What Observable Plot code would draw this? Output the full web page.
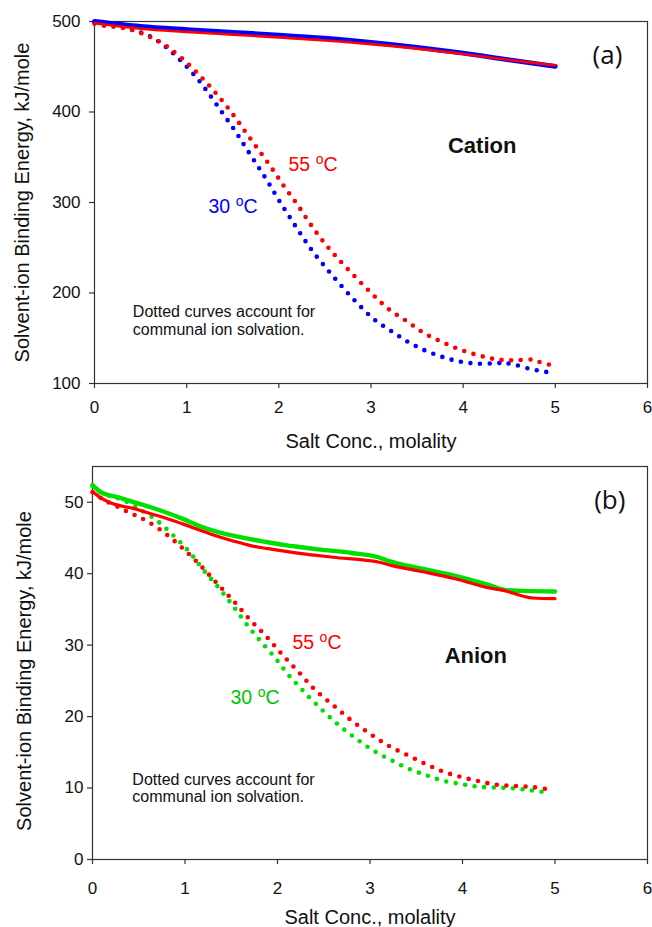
<!DOCTYPE html>
<html>
<head>
<meta charset="utf-8">
<script src="https://cdn.jsdelivr.net/npm/d3@7"></script>
<script src="https://cdn.jsdelivr.net/npm/@observablehq/plot@0.6"></script>
<style>
  html, body { margin: 0; padding: 0; background: #fff; }
  #chart svg { display: block; }
</style>
</head>
<body>
<div id="chart"></div>
<script>
// ---------- tick labels ----------
const xTicks = [0, 1, 2, 3, 4, 5, 6];
const cationYTicks = [100, 200, 300, 400, 500];
const anionYTicks = [0, 10, 20, 30, 40, 50];

// ---------- panel (a): cation, [molality, kJ/mole] ----------
const cation30Solid = [[0,500],[0.5,494.5],[1,491],[1.5,488],[2,485],[2.5,481.5],[3,477],[3.5,471.5],[4,465],[4.5,457.5],[5,450.5]];
const cation55Solid = [[0,498],[0.5,492],[1,488.5],[1.5,485.5],[2,482.5],[2.5,479],[3,475],[3.5,470],[4,464],[4.5,457.5],[5,451.5]];
const cation30Dotted = [[0,499.5],[0.2,497],[0.4,491],[0.58,484.9],[0.78,471.3],[0.96,454.3],[1.13,435.2],[1.27,416.1],[1.4,397.3],[1.53,378.5],[1.65,359.3],[1.77,340.5],[1.89,321.4],[2.0,302.6],[2.12,283.5],[2.24,264.8],[2.37,245.6],[2.52,226.8],[2.68,207.7],[2.85,188.9],[3.03,171.2],[3.22,158],[3.41,145.5],[3.6,135.9],[3.79,128.9],[3.97,124.1],[4.16,121.9],[4.34,122.3],[4.44,122.7],[4.54,121.2],[4.72,116.3],[4.91,112.7]];
const cation55Dotted = [[0,497.5],[0.12,495.1],[0.22,494],[0.32,492.6],[0.42,490.4],[0.51,487.1],[0.61,482.7],[0.71,477.5],[0.81,470.8],[1.0,454.7],[1.19,435.2],[1.36,415.6],[1.51,396.2],[1.65,376.3],[1.79,356.8],[1.93,336.9],[2.06,317.3],[2.2,297.9],[2.33,278],[2.47,258.5],[2.63,239.4],[2.81,219.8],[3.0,200.3],[3.19,182.3],[3.39,168.7],[3.58,155.4],[3.78,145.5],[3.97,137.3],[4.17,131.1],[4.36,126.7],[4.55,125.6],[4.75,126.3],[4.84,123.4],[4.94,120.8]];

// ---------- panel (b): anion ----------
const anion30Solid = [[0,52.4],[0.09,51.4],[0.27,50.7],[0.45,50.0],[0.63,49.3],[0.81,48.5],[0.99,47.6],[1.17,46.6],[1.35,45.85],[1.53,45.3],[1.72,44.8],[1.9,44.4],[2.08,44.0],[2.26,43.7],[2.44,43.4],[2.8,42.9],[3.09,42.3],[3.2,41.8],[3.56,40.7],[3.92,39.7],[4.29,38.4],[4.47,37.7],[4.65,37.6],[5.0,37.5]];
const anion55Solid = [[0,51.5],[0.09,50.6],[0.2,49.9],[0.45,49.1],[0.63,48.4],[0.81,47.7],[0.99,46.9],[1.17,46.05],[1.35,45.25],[1.53,44.55],[1.72,43.9],[1.9,43.5],[2.26,42.8],[2.6,42.3],[3.1,41.6],[3.25,41.1],[3.56,40.3],[3.92,39.3],[4.29,38.0],[4.43,37.7],[4.76,36.6],[5.0,36.5]];
const anion30Dotted = [[0,52.3],[0.1,51.3],[0.27,50.6],[0.38,50.0],[0.47,49.3],[0.67,47.7],[0.87,45.4],[1.05,43.0],[1.2,40.5],[1.36,38.1],[1.51,35.65],[1.65,33.2],[1.8,30.8],[1.96,28.45],[2.11,25.98],[2.28,23.56],[2.46,21.2],[2.65,18.95],[2.84,17.0],[3.03,15.3],[3.22,13.97],[3.41,12.75],[3.6,11.83],[3.79,11.03],[3.98,10.57],[4.16,10.2],[4.36,10.06],[4.55,9.96],[4.74,9.68],[4.93,9.36]];
const anion55Dotted = [[0,51.4],[0.1,50.5],[0.2,49.8],[0.3,49.2],[0.39,48.6],[0.49,48.0],[0.59,47.35],[0.78,45.7],[0.98,43.5],[1.17,41.1],[1.35,38.6],[1.53,36.1],[1.7,33.6],[1.88,31.2],[2.05,28.7],[2.23,26.2],[2.41,23.7],[2.61,21.5],[2.8,19.45],[3.0,17.6],[3.19,16.0],[3.39,14.7],[3.58,13.5],[3.77,12.4],[3.97,11.6],[4.16,11.0],[4.35,10.5],[4.55,10.3],[4.75,10.15],[4.94,9.8]];

// ---------- annotations (data units) ----------
const cationNotes = [
  {x: 5.566, y: 461.7, text: "(a)", kind: "panel"},
  {x: 4.206, y: 362.6, text: "Cation", kind: "ion"},
  {x: 2.371, y: 342.1, text: "55 °C", kind: "t55"},
  {x: 1.503, y: 295.3, text: "30 °C", kind: "t30"}
];
const anionNotes = [
  {x: 5.592, y: 50.24, text: "(b)", kind: "panel"},
  {x: 4.144, y: 28.5, text: "Anion", kind: "ion"},
  {x: 2.427, y: 30.35, text: "55 °C", kind: "t55"},
  {x: 1.757, y: 22.67, text: "30 °C", kind: "t30"}
];
const captionText = "Dotted curves account for\ncommunal ion solvation.";
const cationCaption = [{x: 0.416, y: 169.6}];
const anionCaption = [{x: 0.431, y: 10.03}];
const xTitle = "Salt Conc., molality";
const yTitle = "Solvent-ion Binding Energy, kJ/mole";

const RED = "#ff0000", BLUE = "#0000ff", GREEN = "#00e000", GREEN_TEXT = "#00c400";
const FONT = "'Liberation Sans', Arial, sans-serif";

function notesMarks(notes, coolText) {
  const sel = k => notes.filter(d => d.kind === k);
  return [
    Plot.text(sel("panel"), {x: "x", y: "y", text: "text", fontSize: 26, fontFamily: "'Open Sans', sans-serif", fill: "#111", textAnchor: "middle", lineAnchor: "middle"}),
    Plot.text(sel("ion"), {x: "x", y: "y", text: "text", fontSize: 22, fontWeight: "bold", fill: "#111", textAnchor: "middle", lineAnchor: "middle"}),
    Plot.text(sel("t55"), {x: "x", y: "y", text: "text", fontSize: 19.5, fill: RED, textAnchor: "middle", lineAnchor: "middle"}),
    Plot.text(sel("t30"), {x: "x", y: "y", text: "text", fontSize: 19.5, fill: coolText, textAnchor: "middle", lineAnchor: "middle"})
  ];
}

function axes(yTicks, yPad, xPad, yTitleDx, yTitleDy) {
  return [
    Plot.frame({stroke: "#333", strokeWidth: 1.2}),
    Plot.axisY(yTicks, {tickSize: 5, tickPadding: yPad, fontSize: 17, label: null, stroke: "#333", strokeWidth: 1.2, fill: "#111"}),
    Plot.axisX(xTicks, {tickSize: 5, tickPadding: xPad, fontSize: 17, label: null, stroke: "#333", strokeWidth: 1.2, fill: "#111"}),
    Plot.text([xTitle], {frameAnchor: "bottom", dy: 58, fontSize: 20, lineAnchor: "middle", textAnchor: "middle", fill: "#111"}),
    Plot.text([yTitle], {frameAnchor: "left", rotate: -90, dx: yTitleDx, dy: yTitleDy, fontSize: 20, lineAnchor: "middle", textAnchor: "middle", fill: "#111"})
  ];
}

function solid(data, color, w) {
  return Plot.line(data, {x: d => d[0], y: d => d[1], stroke: color, strokeWidth: w, curve: "monotone-x"});
}
function dotted(data, color) {
  return Plot.line(data, {x: d => d[0], y: d => d[1], stroke: color, strokeWidth: 4.6, strokeLinecap: "round", strokeDasharray: "0,9.6", curve: "catmull-rom"});
}

const topPanel = Plot.plot({
  width: 652, height: 460,
  marginLeft: 94, marginRight: 5, marginTop: 21, marginBottom: 77,
  style: {fontFamily: FONT, background: "#fff", overflow: "visible"},
  x: {domain: [0, 6]},
  y: {domain: [100, 500]},
  marks: [
    ...axes(cationYTicks, 9, 12, -72, 0),
    dotted(cation30Dotted, BLUE),
    dotted(cation55Dotted, RED),
    solid(cation30Solid, BLUE, 4.8),
    solid(cation55Solid, RED, 2.6),
    Plot.text(cationCaption, {x: "x", y: "y", text: () => captionText, fontSize: 16, lineHeight: 1.1, textAnchor: "start", lineAnchor: "middle", fill: "#111"}),
    ...notesMarks(cationNotes, BLUE)
  ]
});

const bottomPanel = Plot.plot({
  width: 652, height: 467,
  marginLeft: 92, marginRight: 5, marginTop: 6, marginBottom: 68,
  style: {fontFamily: FONT, background: "#fff", overflow: "visible"},
  x: {domain: [0, 6]},
  y: {domain: [0, 55]},
  marks: [
    ...axes(anionYTicks, 4, 17, -68, 8),
    dotted(anion30Dotted, GREEN),
    dotted(anion55Dotted, RED),
    solid(anion30Solid, GREEN, 4.4),
    solid(anion55Solid, RED, 3.2),
    Plot.text(anionCaption, {x: "x", y: "y", text: () => captionText, fontSize: 16, lineHeight: 1.1, textAnchor: "start", lineAnchor: "middle", fill: "#111"}),
    ...notesMarks(anionNotes, GREEN_TEXT)
  ]
});

function superscriptDegrees(svg) {
  const ns = "http://www.w3.org/2000/svg";
  for (const t of svg.querySelectorAll("text")) {
    if (t.children.length) continue;
    const m = /^(\d+) °C$/.exec(t.textContent);
    if (!m) continue;
    t.textContent = "";
    const a = document.createElementNS(ns, "tspan"); a.textContent = m[1] + " ";
    const o = document.createElementNS(ns, "tspan"); o.textContent = "o";
    o.setAttribute("font-size", "14"); o.setAttribute("dy", "-7");
    const c = document.createElementNS(ns, "tspan"); c.textContent = "C"; c.setAttribute("dy", "7");
    t.append(a, o, c);
  }
}
superscriptDegrees(topPanel);
superscriptDegrees(bottomPanel);

document.getElementById("chart").append(topPanel, bottomPanel);
</script>
</body>
</html>
